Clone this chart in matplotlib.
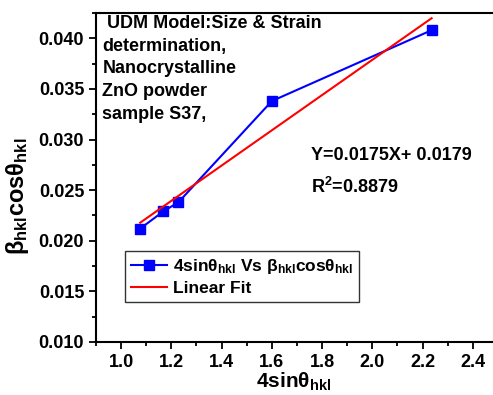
import numpy as np
import matplotlib
matplotlib.use("Agg")
import matplotlib.pyplot as plt
from matplotlib.ticker import MultipleLocator

plt.rcParams['font.family'] = ['Liberation Sans', 'DejaVu Sans']
plt.rcParams['mathtext.fontset'] = 'custom'
plt.rcParams['mathtext.rm'] = 'Liberation Sans:bold'
plt.rcParams['mathtext.it'] = 'Liberation Sans:bold'
plt.rcParams['mathtext.bf'] = 'Liberation Sans:bold'

x_vals = [1.076, 1.168, 1.228, 1.600, 2.236]
y_vals = [0.0212, 0.0229, 0.0238, 0.0338, 0.0408]

fig = plt.figure(figsize=(4.93, 3.95), dpi=100)
ax = fig.add_axes([0.1947, 0.1342, 1.010 - 0.1947, 0.9671 - 0.1342])

ax.plot(x_vals, y_vals, color='#0000FF', lw=1.5, marker='s', ms=7,
        label=r'4sin$\mathregular{\theta_{hkl}}$ Vs $\mathregular{\beta_{hkl}cos\theta_{hkl}}$')
slope, intercept = np.polyfit(x_vals, y_vals, 1)
xf = np.array([min(x_vals), max(x_vals)])
ax.plot(xf, slope * xf + intercept, color='#FF0000', lw=1.5, label='Linear Fit')

ax.set_xlim(0.9, 2.5)
ax.set_ylim(0.010, 0.0425)
ax.xaxis.set_major_locator(MultipleLocator(0.2))
ax.xaxis.set_minor_locator(MultipleLocator(0.1))
ax.yaxis.set_major_locator(MultipleLocator(0.005))
ax.yaxis.set_minor_locator(MultipleLocator(0.0025))
ax.xaxis.set_major_formatter(plt.FuncFormatter(lambda v, p: f"{v:.1f}"))
ax.yaxis.set_major_formatter(plt.FuncFormatter(lambda v, p: f"{v:.3f}"))

for s in ax.spines.values():
    s.set_linewidth(1.5)
ax.tick_params(which='major', direction='out', length=5, width=1.3, labelsize=13)
ax.tick_params(axis='x', which='major', pad=4)
ax.tick_params(which='minor', direction='out', length=3, width=1.3)
for lab in ax.get_xticklabels() + ax.get_yticklabels():
    lab.set_fontweight('bold')

fig.text(0.596, 0.004, r'4sin$\mathregular{\theta_{hkl}}$', fontsize=15, fontweight='bold',
         ha='center', va='bottom')
fig.text(0.036, 0.504, r'$\mathregular{\beta_{hkl}cos\theta_{hkl}}$', fontsize=17,
         fontweight='bold', ha='center', va='center', rotation=90)

ax.text(0.016, 0.993, ' UDM Model:Size & Strain\ndetermination,\nNanocrystalline\nZnO powder\nsample S37,',
        transform=ax.transAxes, ha='left', va='top', fontsize=13, fontweight='bold',
        linespacing=1.43)
ax.text(0.535, 0.567, 'Y=0.0175X+ 0.0179', transform=ax.transAxes, fontsize=13,
        fontweight='bold', ha='left', va='center')
ax.text(0.535, 0.47, r'R$\mathregular{^2}$=0.8879', transform=ax.transAxes, fontsize=13,
        fontweight='bold', ha='left', va='center')

leg = ax.legend(loc='upper left', bbox_to_anchor=(0.072, 0.277), fontsize=12.5,
                frameon=True, fancybox=False, edgecolor='black', borderpad=0.35,
                handlelength=2.1, handletextpad=0.3, labelspacing=0.3, borderaxespad=0)
leg.get_frame().set_linewidth(1.0)
for t in leg.get_texts():
    t.set_fontweight('bold')

fig.savefig('out.png', dpi=100)
